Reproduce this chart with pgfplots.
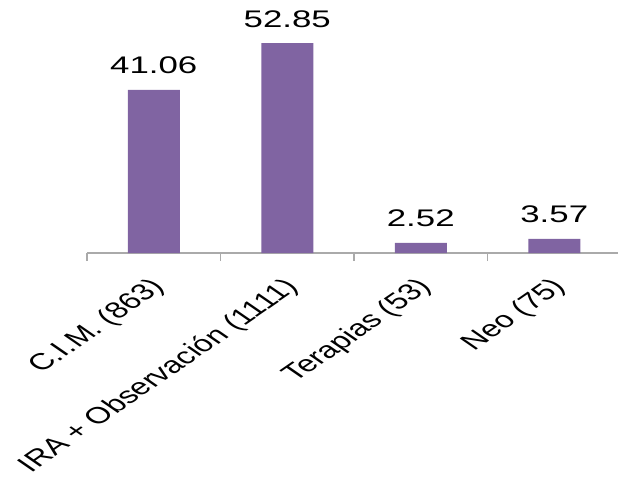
\documentclass[border=0pt]{standalone}
\usepackage{fontspec}
\setmainfont{Liberation Sans}
\usepackage{pgfplots}
\pgfplotsset{compat=1.18}
\definecolor{barpurple}{RGB}{128,100,162}
\definecolor{axgray}{RGB}{170,170,170}
\begin{document}
\begin{tikzpicture}
\begin{axis}[
  x=133.5pt, y=3.973pt,
  xmin=-0.5, xmax=3.5, ymin=0, ymax=55,
  axis x line=bottom, axis y line=none,
  axis line style={-, draw=axgray, line width=1.2pt},
  xtick={-0.5,0.5,1.5,2.5,3.5},
  xticklabels={C.I.M. (863), IRA + Observación (1111), Terapias (53), Neo (75)},
  x tick label as interval,
  tick align=outside,
  major tick length=8pt,
  x tick style={draw=axgray, line width=1.2pt},
  xticklabel style={xshift=-5pt, yshift=-15pt, font=\fontsize{23}{23}\selectfont, anchor=north east, inner sep=0pt, xscale=1.45, rotate=45},
  ybar, bar width=52pt, bar shift=0pt,
  /pgf/number format/.cd, fixed, fixed zerofill, precision=2, assume math mode=true, /pgfplots/.cd,
  nodes near coords,
  every node near coord/.append style={font=\fontsize{24}{24}\selectfont, xscale=1.45, anchor=base, inner sep=0pt, yshift=16pt, text=black},
  clip=false,
]
\addplot[fill=barpurple, draw=none] coordinates {(0,41.06) (1,52.85) (2,2.52) (3,3.57)};
\coordinate (tl) at (axis cs:-1.1517,63.68);
\coordinate (br) at (axis cs:3.4775,-56.38);
\end{axis}
\pgfresetboundingbox
\path[use as bounding box] (tl) rectangle (br);
\end{tikzpicture}
\end{document}
